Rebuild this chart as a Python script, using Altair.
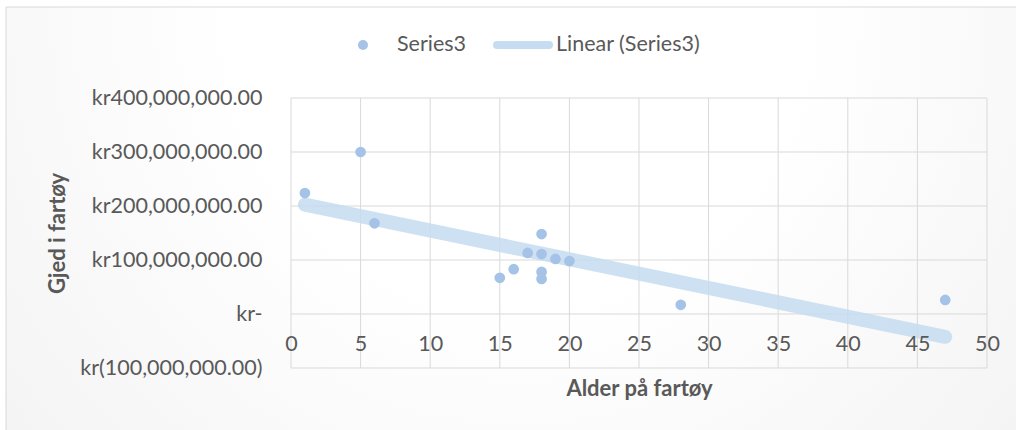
import altair as alt
import pandas as pd

# Vessel age (years) and debt (NOK) per vessel
ages = [1, 5, 6, 15, 16, 17, 18, 18, 18, 18, 19, 20, 28, 47]
debts = [224e6, 300e6, 168e6, 67e6, 83e6, 113e6, 148e6, 111e6, 78e6, 65e6,
         102e6, 98e6, 17e6, 26e6]

x_ticks = [0, 5, 10, 15, 20, 25, 30, 35, 40, 45, 50]
y_ticks = [-100e6, 0, 100e6, 200e6, 300e6, 400e6]
legend_labels = ["Series3", "Linear (Series3)"]

df = pd.DataFrame({"age": ages, "debt": debts})
one = pd.DataFrame({"k": [0]})

FONT = "Lato"
GRAY = "#595959"
GRID = "#d9d9d9"
DOT = "#a5c3e6"
TREND = "#c6dcf1"
LABEL_SIZE = 21.5
TITLE_SIZE = 22

W, H = 696, 270
PL, PT, PR, PB = 291, 98, 29, 62

y_fmt = ("datum.value == 0 ? 'kr-' : (datum.value < 0 ? "
         "'kr(' + format(-datum.value, ',.2f') + ')' : "
         "'kr' + format(datum.value, ',.2f'))")

x_enc = alt.X(
    "age:Q",
    scale=alt.Scale(domain=[0, 50], nice=False, zero=False),
    axis=alt.Axis(
        values=x_ticks, title="Alder på fartøy", grid=False, domain=False,
        ticks=False, tickSize=0, labelPadding=-24, labelBaseline="middle",
        labelFlush=False, labelOverlap=False, zindex=1,
        titleX=W / 2, titleY=20, titleBaseline="middle", titleAlign="center",
    ),
)
y_enc = alt.Y(
    "debt:Q",
    scale=alt.Scale(domain=[-100e6, 400e6], nice=False, zero=False),
    axis=alt.Axis(
        values=y_ticks, title="Gjed i fartøy", grid=False, domain=False,
        ticks=False, tickSize=0, labelPadding=29, labelExpr=y_fmt,
        labelBaseline="middle", labelOverlap=False, labelFlush=False,
        labelLimit=400, zindex=1,
        titleX=57 - PL, titleY=H / 2, titleAngle=270,
        titleBaseline="middle", titleAlign="center",
    ),
)

# chart frame with soft background shading
frame = alt.Chart(one).mark_rect(
    fill=alt.RadialGradient(
        gradient="radial",
        stops=[alt.GradientStop(color="#ffffff", offset=0),
               alt.GradientStop(color="#ffffff", offset=0.35),
               alt.GradientStop(color="#efefef", offset=1)],
        x1=0.5, y1=0.3, x2=0.5, y2=0.3, r1=0, r2=0.8,
    ),
    stroke=GRID, strokeWidth=1,
).encode(
    x=alt.value(6 - PL), x2=alt.value(1030 - PL),
    y=alt.value(7 - PT), y2=alt.value(440 - PT),
)

# gridlines at the tick positions
vgrid = alt.Chart(pd.DataFrame({"age": x_ticks})).mark_rule(
    color=GRID, strokeWidth=1
).encode(x=x_enc, y=alt.value(0), y2=alt.value(H))
hgrid = alt.Chart(pd.DataFrame({"debt": y_ticks})).mark_rule(
    color=GRID, strokeWidth=1
).encode(y=y_enc, x=alt.value(0), x2=alt.value(W))

trend = alt.Chart(df).transform_regression("age", "debt").mark_line(
    color=TREND, strokeWidth=14, strokeCap="round", opacity=0.85,
).encode(x=x_enc, y=y_enc)

points = alt.Chart(df).mark_circle(size=115, color=DOT, opacity=1).encode(
    x=x_enc, y=y_enc
)

# legend
leg_dot = alt.Chart(one).mark_circle(size=100, color=DOT, opacity=1).encode(
    x=alt.value(363 - PL), y=alt.value(45 - PT)
)
leg_line = alt.Chart(one).mark_rule(
    color=TREND, strokeWidth=8, strokeCap="round"
).encode(x=alt.value(497 - PL), x2=alt.value(549 - PL), y=alt.value(45 - PT))
leg_t1 = alt.Chart(one).mark_text(
    text=legend_labels[0], font=FONT, fontSize=LABEL_SIZE, color=GRAY,
    align="left", baseline="middle",
).encode(x=alt.value(397 - PL), y=alt.value(45 - PT))
leg_t2 = alt.Chart(one).mark_text(
    text=legend_labels[1], font=FONT, fontSize=LABEL_SIZE, color=GRAY,
    align="left", baseline="middle",
).encode(x=alt.value(556 - PL), y=alt.value(45 - PT))

chart = alt.layer(
    frame, vgrid, hgrid, trend, points, leg_dot, leg_line, leg_t1, leg_t2
).properties(
    width=W, height=H,
    autosize=alt.AutoSizeParams(type="none"),
    padding={"left": PL, "top": PT, "right": PR, "bottom": PB},
    background="white",
).configure_axis(
    labelFont=FONT, labelFontSize=LABEL_SIZE, labelColor=GRAY,
    titleFont=FONT, titleFontSize=TITLE_SIZE, titleFontWeight="bold",
    titleColor=GRAY,
).configure_view(stroke=None)

chart.save("out.html", embed_options={"renderer": "svg", "actions": False})
